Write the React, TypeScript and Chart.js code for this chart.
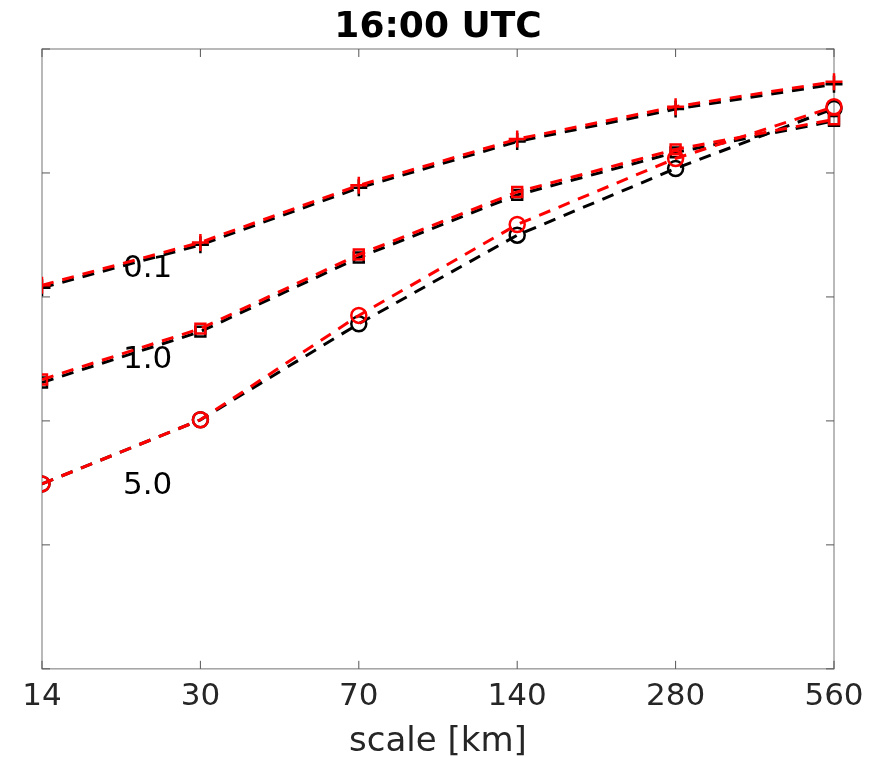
import React, { useEffect, useRef } from 'react';
import { Chart, registerables } from 'chart.js';

Chart.register(...registerables);

const titleText = '16:00 UTC';
const xTitle = 'scale [km]';
const categories = ['14', '30', '70', '140', '280', '560'];
const yTickValues = [0, 1, 2, 3, 4, 5];

// plus markers (0.1)
const red01 = [3.094, 3.44, 3.9, 4.273, 4.535, 4.736];
const black01 = [3.074, 3.42, 3.88, 4.253, 4.515, 4.716];
// square markers (1.0)
const red10 = [2.334, 2.744, 3.342, 3.847, 4.19, 4.432];
const black10 = [2.31, 2.72, 3.318, 3.823, 4.166, 4.42];
// circle markers (5.0)
const red50 = [1.492, 2.009, 2.851, 3.584, 4.117, 4.534];
const black50 = [1.492, 2.009, 2.784, 3.498, 4.036, 4.52];

const seriesLabels = ['0.1', '1.0', '5.0'];
const seriesLabelY = [3.158, 2.423, 1.414];
const seriesLabelX = 0.511;

const FONT = "'DejaVu Sans', sans-serif";

const boxPlugin = {
  id: 'boxPlugin',
  beforeDatasetsDraw(chart: any) {
    const { ctx, chartArea } = chart;
    const xs = chart.scales.x;
    const ys = chart.scales.y;
    const { left, right, top, bottom } = chartArea;
    ctx.save();
    // series labels
    ctx.fillStyle = '#000000';
    ctx.font = `31px ${FONT}`;
    ctx.textAlign = 'left';
    ctx.textBaseline = 'alphabetic';
    seriesLabels.forEach((t, i) => {
      ctx.fillText(t, xs.getPixelForValue(seriesLabelX), ys.getPixelForValue(seriesLabelY[i]));
    });
    // box
    ctx.strokeStyle = '#8a8a8a';
    ctx.lineWidth = 1.2;
    ctx.strokeRect(left, top, right - left, bottom - top);
    // ticks
    ctx.strokeStyle = '#555555';
    ctx.lineWidth = 1;
    const tl = 8;
    ctx.beginPath();
    categories.forEach((_, i) => {
      const px = xs.getPixelForValue(i);
      ctx.moveTo(px, bottom);
      ctx.lineTo(px, bottom - tl);
      ctx.moveTo(px, top);
      ctx.lineTo(px, top + tl);
    });
    yTickValues.forEach((v) => {
      const py = ys.getPixelForValue(v);
      ctx.moveTo(left, py);
      ctx.lineTo(left + tl, py);
      ctx.moveTo(right, py);
      ctx.lineTo(right - tl, py);
    });
    ctx.stroke();
    // title
    ctx.fillStyle = '#000000';
    ctx.font = `bold 36px ${FONT}`;
    ctx.textAlign = 'center';
    ctx.fillText(titleText, (left + right) / 2, 37);
    ctx.restore();
  },
};

function ds(data: number[], color: string, style: string, radius: number) {
  return {
    data,
    borderColor: color,
    backgroundColor: 'rgba(0,0,0,0)',
    borderWidth: 3,
    borderDash: [12, 9],
    pointStyle: style,
    pointRadius: radius,
    pointBorderWidth: 2.5,
    pointBorderColor: color,
    pointBackgroundColor: 'rgba(0,0,0,0)',
    fill: false,
    tension: 0,
    clip: { left: 0, top: false, right: false, bottom: false },
  };
}

export default function App() {
  const ref = useRef<HTMLCanvasElement>(null);
  useEffect(() => {
    document.body.style.margin = '0';
    const chart = new Chart(ref.current as HTMLCanvasElement, {
      type: 'line',
      data: {
        labels: categories,
        datasets: [
          ds(red01, '#ff0000', 'cross', 8.5),
          ds(red10, '#ff0000', 'rect', 7),
          ds(red50, '#ff0000', 'circle', 7.5),
          ds(black01, '#000000', 'cross', 8.5),
          ds(black10, '#000000', 'rect', 7),
          ds(black50, '#000000', 'circle', 7.5),
        ] as any,
      },
      options: {
        responsive: false,
        animation: false,
        devicePixelRatio: 1,
        events: [],
        layout: { padding: { left: 42, right: 42, top: 49, bottom: 1 } },
        plugins: {
          legend: { display: false },
          title: { display: false },
          tooltip: { enabled: false },
        },
        scales: {
          x: {
            type: 'category',
            offset: false,
            grid: { display: false, drawTicks: false },
            border: { display: false },
            ticks: {
              color: '#262626',
              font: { family: FONT, size: 31, lineHeight: 1.16 },
              padding: 10,
              maxRotation: 0,
              autoSkip: false,
            },
            title: {
              display: true,
              text: xTitle,
              color: '#262626',
              font: { family: FONT, size: 34, lineHeight: 0.8 },
              padding: { top: 4, bottom: 0 },
            },
          },
          y: {
            display: false,
            min: 0,
            max: 5,
          },
        },
      },
      plugins: [boxPlugin],
    });
    return () => chart.destroy();
  }, []);
  return <canvas ref={ref} width={876} height={757} style={{ display: 'block' }} />;
}
